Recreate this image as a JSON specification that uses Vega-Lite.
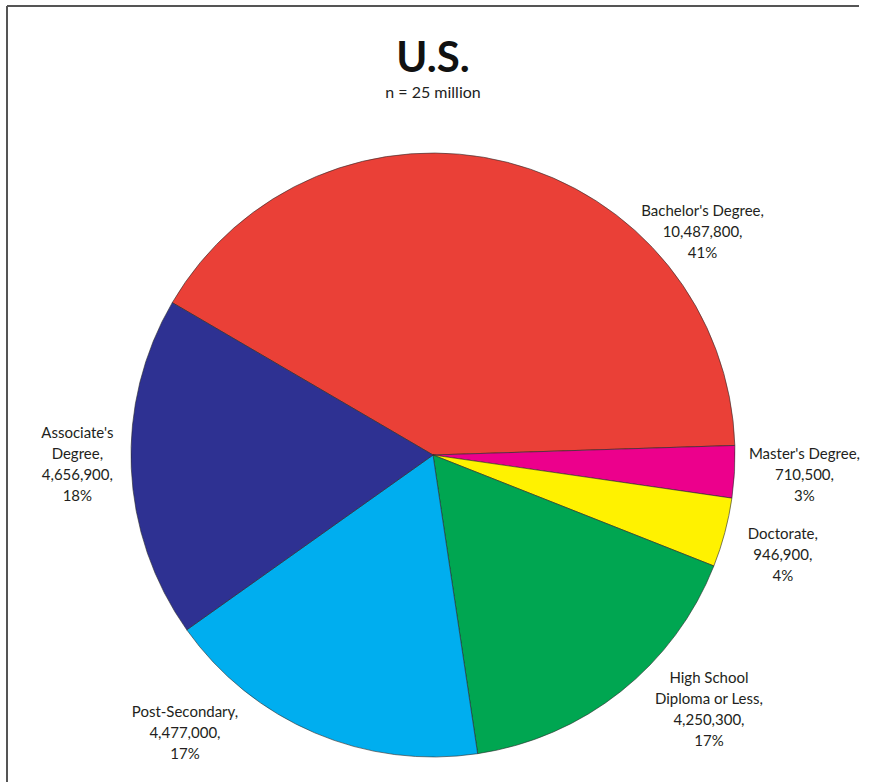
{
  "$schema": "https://vega.github.io/schema/vega-lite/v6.json",
  "autosize": {"type": "none"},
  "width": 852,
  "height": 898,
  "padding": {"left": 7, "top": 6, "right": 20, "bottom": -122},
  "background": "white",
  "view": {"stroke": "#555555", "strokeWidth": 2, "strokeDash": [852, 1750, 898, 0]},
  "title": {
    "text": "U.S.",
    "subtitle": "n = 25 million",
    "anchor": "middle",
    "font": "Lato",
    "fontSize": 42,
    "fontWeight": "bold",
    "color": "#111111",
    "subtitleFont": "Lato",
    "subtitleFontSize": 16,
    "subtitleColor": "#222222",
    "subtitlePadding": 4,
    "offset": -96
  },
  "data": {
    "values": [
      {"cat": "Bachelor's Degree", "value": 10487800, "ord": 1, "label": "Bachelor's Degree,\n10,487,800,\n41%"},
      {"cat": "Master's Degree", "value": 710500, "ord": 2, "label": "Master's Degree,\n710,500,\n3%"},
      {"cat": "Doctorate", "value": 946900, "ord": 3, "label": "Doctorate,\n946,900,\n4%"},
      {"cat": "High School Diploma or Less", "value": 4250300, "ord": 4, "label": "High School\nDiploma or Less,\n4,250,300,\n17%"},
      {"cat": "Post-Secondary", "value": 4477000, "ord": 5, "label": "Post-Secondary,\n4,477,000,\n17%"},
      {"cat": "Associate's Degree", "value": 4656900, "ord": 6, "label": "Associate's\nDegree,\n4,656,900,\n18%"}
    ]
  },
  "encoding": {
    "theta": {"field": "value", "type": "quantitative", "stack": true, "scale": {"range": [-1.042, 5.2412]}},
    "order": {"field": "ord", "type": "quantitative"}
  },
  "layer": [
    {
      "mark": {"type": "arc", "radius": 302, "stroke": "#2a2a2a", "strokeWidth": 0.6},
      "encoding": {
        "color": {
          "field": "cat",
          "type": "nominal",
          "legend": null,
          "scale": {
            "domain": ["Bachelor's Degree", "Master's Degree", "Doctorate", "High School Diploma or Less", "Post-Secondary", "Associate's Degree"],
            "range": ["#EA4037", "#EC008C", "#FFF200", "#00A651", "#00AEEF", "#2E3192"]
          }
        }
      }
    },
    {
      "mark": {"type": "text", "radius": 362, "dx": 10, "dy": -21, "font": "Lato", "fontSize": 15, "lineHeight": 21, "lineBreak": "\n", "align": "center", "baseline": "middle", "color": "#231F20"},
      "encoding": {
        "text": {"condition": {"test": "datum.ord == 2", "field": "label", "type": "nominal"}, "value": ""}
      }
    },
    {
      "mark": {"type": "text", "radius": 362, "dy": -14, "font": "Lato", "fontSize": 15, "lineHeight": 21, "lineBreak": "\n", "align": "center", "baseline": "middle", "color": "#231F20"},
      "encoding": {
        "text": {"condition": {"test": "datum.ord == 3", "field": "label", "type": "nominal"}, "value": ""}
      }
    },
    {
      "mark": {"type": "text", "radius": 362, "dx": 6, "dy": -38, "font": "Lato", "fontSize": 15, "lineHeight": 21, "lineBreak": "\n", "align": "center", "baseline": "middle", "color": "#231F20"},
      "encoding": {
        "text": {"condition": {"test": "datum.ord == 6", "field": "label", "type": "nominal"}, "value": ""}
      }
    },
    {
      "mark": {"type": "text", "radius": 360, "dx": 181, "dy": 105, "font": "Lato", "fontSize": 15, "lineHeight": 21, "lineBreak": "\n", "align": "center", "baseline": "middle", "color": "#231F20"},
      "encoding": {
        "text": {"condition": {"test": "datum.ord == 1", "field": "label", "type": "nominal"}, "value": ""}
      }
    },
    {
      "mark": {"type": "text", "radius": 360, "dx": 52, "dy": -59, "font": "Lato", "fontSize": 15, "lineHeight": 21, "lineBreak": "\n", "align": "center", "baseline": "middle", "color": "#231F20"},
      "encoding": {
        "text": {"condition": {"test": "datum.ord == 4", "field": "label", "type": "nominal"}, "value": ""}
      }
    },
    {
      "mark": {"type": "text", "radius": 360, "dx": -107, "dy": -74, "font": "Lato", "fontSize": 15, "lineHeight": 21, "lineBreak": "\n", "align": "center", "baseline": "middle", "color": "#231F20"},
      "encoding": {
        "text": {"condition": {"test": "datum.ord == 5", "field": "label", "type": "nominal"}, "value": ""}
      }
    }
  ]
}
